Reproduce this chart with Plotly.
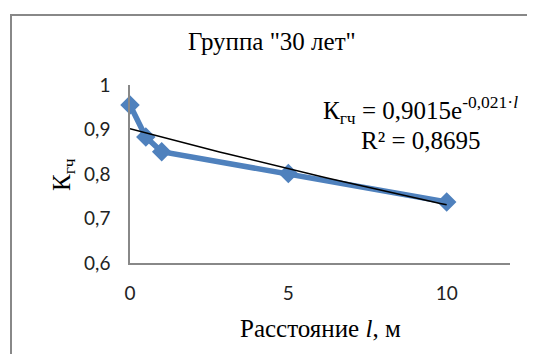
import numpy as np
import plotly.graph_objects as go

# Data
distance = [0, 0.5, 1, 5, 10]
k_gch = [0.955, 0.883, 0.850, 0.801, 0.737]
trend_a = 0.9015
trend_b = -0.021
r2_text = "0,8695"
x_ticks = [0, 5, 10]
y_ticks = [0.6, 0.7, 0.8, 0.9, 1.0]
y_tick_labels = ["0,6", "0,7", "0,8", "0,9", "1"]

trend_x = np.linspace(0, 10, 50)
trend_y = trend_a * np.exp(trend_b * trend_x)

# page body has an 8px margin; work in reference pixel coords and offset
OFF = 8
W, H = 535 - OFF, 354 - OFF
L, T = 130 - OFF, 85 - OFF
pw, ph = 380, 178
R = W - L - pw
B = H - T - ph


def px(x):
    return (x - OFF - L) / pw


def py(y):
    return (T + ph - (y - OFF)) / ph


serif = "Liberation Serif"
blue = "#4F81BD"
FS = 25

fig = go.Figure()
fig.add_trace(go.Scatter(x=distance, y=k_gch, mode="lines+markers",
                         line=dict(color=blue, width=5.5),
                         marker=dict(symbol="diamond", size=15, color=blue),
                         showlegend=False, cliponaxis=False))
fig.add_trace(go.Scatter(x=trend_x, y=trend_y, mode="lines",
                         line=dict(color="black", width=1.5),
                         showlegend=False))

tickfont = dict(family="Lato", size=19, color="#222222")
fig.update_layout(
    width=W, height=H,
    margin=dict(l=L, r=R, t=T, b=B),
    paper_bgcolor="white", plot_bgcolor="white",
    font=dict(family=serif, size=FS, color="black"),
    xaxis=dict(range=[0, 12], tickvals=x_ticks, ticktext=[str(v) for v in x_ticks],
               showgrid=False, zeroline=False, showline=True, linecolor="#888888",
               linewidth=1.5, ticks="", ticklabelstandoff=12, tickfont=tickfont),
    yaxis=dict(range=[0.6, 1.0], tickvals=y_ticks, ticktext=y_tick_labels,
               showgrid=False, zeroline=False, showline=True, linecolor="#888888",
               linewidth=1.5, ticks="", ticklabelstandoff=14, tickfont=tickfont),
)

annotations = [
    dict(text='Группа "30 лет"', x=px(272), y=py(42)),
    dict(text="Расстояние <i>l</i>, м", x=px(320), y=py(328)),
    dict(text="К<sub>гч</sub>", x=px(63), y=py(175), textangle=-90),
    dict(text="К<sub>гч</sub> = 0,9015e<sup>-0,021·<i>l</i></sup>", x=px(420), y=py(110)),
    dict(text="R² = " + r2_text, x=px(421), y=py(140)),
]
for a in annotations:
    a.update(xref="paper", yref="paper", showarrow=False, xanchor="center", yanchor="middle",
             font=dict(family=serif, size=FS, color="black"))
fig.update_layout(annotations=annotations)

fig.add_shape(type="rect", xref="paper", yref="paper",
              x0=px(11), x1=px(600), y0=py(400), y1=py(15),
              line=dict(color="#888888", width=2), fillcolor="rgba(0,0,0,0)", layer="below")

fig.write_html("out.html")
